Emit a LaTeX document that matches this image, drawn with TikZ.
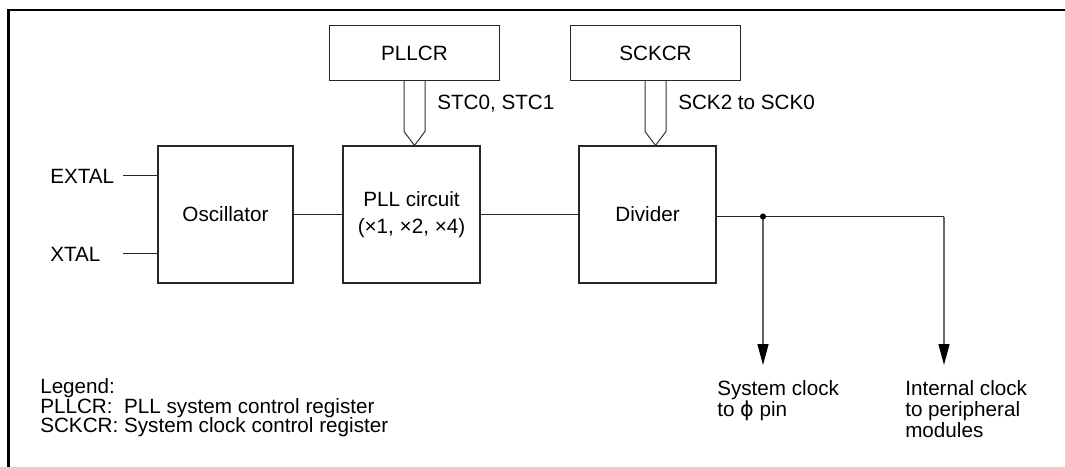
\documentclass[tikz,border=0pt]{standalone}
\usepackage{fontspec}
\setmainfont{Liberation Sans}
\newfontfamily\dejavu{DejaVu Sans}
\usetikzlibrary{arrows.meta,calc}
\begin{document}
\begin{tikzpicture}[x=0.75pt,y=-0.75pt,
  font=\fontsize{15.5}{18}\selectfont,
  blk/.style={draw=black!85,line width=0.8pt,inner sep=0pt,minimum width=102.75pt,minimum height=102.75pt},
  reg/.style={draw=black!85,line width=0.8pt,inner sep=0pt,minimum width=127pt,minimum height=41.25pt},
  fat/.style={draw=black!80,line width=0.75pt,line join=miter},
  wire/.style={draw=black!85,line width=0.75pt},
  vwire/.style={draw=black!60,line width=0.9pt},
  tip/.style={-{Triangle[width=8.25pt,length=15.75pt,color=black]}},
  lbl/.style={inner sep=0pt},
  frame/.style={line width=2pt}]
\useasboundingbox (0,0) rectangle (1065,467);
% frame
\coordinate (fbl) at (8.3,467);
\coordinate (ftl) at (8.3,10);
\coordinate (ftr) at (1065,10);
\draw[frame] (fbl) -- (ftl) -- (ftr);
% blocks
\node[blk,minimum width=101.25pt] (osc) at (225.5,214.5) {Oscillator};
\node[blk,align=center,font=\fontsize{15.5}{20}\selectfont] (pll) at (411.5,214.5) {PLL circuit\\(×1, ×2, ×4)};
\node[blk] (div) at (647.5,214.5) {Divider};
\node[reg] (pllcr) at (414.5,53) {PLLCR};
\node[reg] (sckcr) at (655.5,53) {SCKCR};
% fat arrows
\draw[fat] ($(pllcr.south)+(-10.5,0)$) -- ($(pllcr.south |- pll.north)+(-10.5,-14)$) -- (pllcr.south |- pll.north) -- ($(pllcr.south |- pll.north)+(10.5,-14)$) -- ($(pllcr.south)+(10.5,0)$);
\draw[fat] ($(sckcr.south)+(-10.5,0)$) -- ($(sckcr.south |- div.north)+(-10.5,-14)$) -- (sckcr.south |- div.north) -- ($(sckcr.south |- div.north)+(10.5,-14)$) -- ($(sckcr.south)+(10.5,0)$);
\node[lbl,anchor=base west] (stc) at (437,110) {STC0, STC1};
\node[lbl,anchor=base west] (sck) at (678,110) {SCK2 to SCK0};
% inputs
\node[lbl,anchor=base west] (extal) at (50,183) {EXTAL};
\node[lbl,anchor=base west] (xtal) at (50,261) {XTAL};
\coordinate (extalend) at (123,175);
\coordinate (xtalend) at (123,253);
\draw[wire] (extalend) -- (extalend -| osc.west);
\draw[wire] (xtalend) -- (xtalend -| osc.west);
% chain
\draw[wire] (osc.east) -- (pll.west);
\draw[wire] (pll.east) -- (div.west);
% outputs
\coordinate (dout) at ($(div.east)+(0,2)$);
\coordinate (j) at (763,216.5);
\coordinate (r) at (944,216.5);
\coordinate (sysend) at (763,365);
\coordinate (intend) at (944,365);
\draw[wire] (dout) -- (r);
\draw[vwire,tip] (j) -- (sysend);
\draw[vwire,tip] (r) -- (intend);
\fill (j) circle[radius=2.3pt];
\node[lbl,anchor=north west,align=left,font=\fontsize{15.5}{15.9}\selectfont] (sys) at (717,380) {System clock\\to {\dejavu ϕ} pin};
\node[lbl,anchor=north west,align=left,font=\fontsize{15.5}{15.9}\selectfont] (int) at (905,380) {Internal clock\\to peripheral\\modules};
% legend
\node[lbl,anchor=base west] (lg1) at (40,393.5) {Legend:};
\node[lbl,anchor=base west] (lg2) at (40,413) {PLLCR:\ \ PLL system control register};
\node[lbl,anchor=base west] (lg3) at (40,432.5) {SCKCR: System clock control register};
\end{tikzpicture}
\end{document}
